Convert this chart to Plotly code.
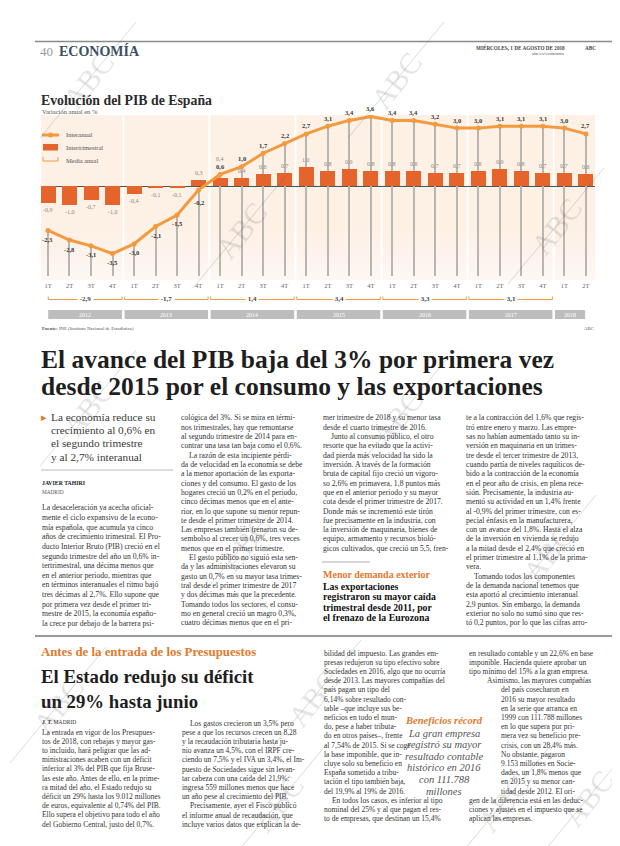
import plotly.graph_objects as go

W, H = 620, 846
SERIF = "Liberation Serif"

# ---------------- chart data ----------------
quarters = ["1T", "2T", "3T", "4T"] * 6 + ["1T", "2T"]
interanual = [-2.3, -2.8, -3.1, -3.5, -3.0, -2.1, -1.5, -0.2,
              0.6, 1.0, 1.7, 2.2, 2.7, 3.1, 3.4, 3.6,
              3.4, 3.4, 3.2, 3.0, 3.0, 3.1, 3.1, 3.1,
              3.0, 2.7]
intertrimestral = [-0.9, -1.0, -0.7, -1.0, -0.4, -0.1, -0.1, 0.3,
                   0.4, 0.4, 0.6, 0.7, 1.0, 0.8, 0.9, 0.8,
                   0.8, 0.8, 0.7, 0.7, 0.8, 0.9, 0.8, 0.7,
                   0.7, 0.6]
years = ["2012", "2013", "2014", "2015", "2016", "2017", "2018"]
quarters_per_year = [4, 4, 4, 4, 4, 4, 2]
media_anual = [-2.9, -1.7, 1.4, 3.4, 3.3, 3.1, None]

idx = list(range(len(interanual)))
fmt = lambda v: f"{v:.1f}".replace(".", ",")

# layout helpers (pixel -> paper)
def px(x):
    return x / W

def py(y):
    return 1 - y / H

YMIN, YMAX = -4.87, 3.68
XMIN, XMAX = -0.325, 25.42
DROP_BOTTOM = -4.66

LINE_C = "#f39a3e"
BAR_C = "#e5642b"
ORANGE_T = "#e07a2f"

fig = go.Figure()

# drop lines (thin gray bars from bottom to the interanual value)
fig.add_trace(go.Bar(x=idx, y=[v - DROP_BOTTOM for v in interanual], base=DROP_BOTTOM,
                     width=0.05, marker=dict(color="#b9b5b1", line=dict(width=0)),
                     hoverinfo="skip", showlegend=False))
# intertrimestral bars
fig.add_trace(go.Bar(x=idx, y=intertrimestral, width=0.7,
                     marker=dict(color=BAR_C, line=dict(width=0)),
                     showlegend=False, name="Intertrimestral"))
# interanual line
fig.add_trace(go.Scatter(x=idx, y=interanual, mode="lines+markers",
                         line=dict(color=LINE_C, width=3),
                         marker=dict(color=LINE_C, size=5),
                         showlegend=False, name="Interanual"))

annotations = []

def txt(s, x, y, size=7.6, color="#333", weight="normal", style="normal",
        family=SERIF, xanchor="left", yanchor="middle", angle=0, bg=None):
    d = dict(text=s, x=px(x), y=py(y), xref="paper", yref="paper", showarrow=False,
             font=dict(family=family, size=size, color=color, weight=weight, style=style),
             xanchor=xanchor, yanchor=yanchor, textangle=angle, borderpad=0)
    if bg:
        d["bgcolor"] = bg
    annotations.append(d)

def lines(arr, x, y0, dy, indent=8, **kw):
    for i, l in enumerate(arr):
        xx = x
        if l.startswith(">"):
            l = l[1:]
            xx = x + indent
        txt(l, xx, y0 + i * dy, **kw)

# value labels for bars
for i, v in enumerate(intertrimestral):
    shift = 7 if v >= 0 else -7
    if i == 8:
        shift = 19
    annotations.append(dict(text=fmt(v), x=i, y=v, xref="x", yref="y", showarrow=False,
                            yshift=shift, font=dict(family=SERIF, size=6, color="#8a8a8a")))
# value labels for line
for i, v in enumerate(interanual):
    shift = 8 if v > 0 else -9
    if i == 7:
        shift = -13
    annotations.append(dict(text=fmt(v), x=i, y=v, xref="x", yref="y", showarrow=False,
                            yshift=shift, font=dict(family=SERIF, size=6.5, color="#333",
                                                    weight="bold")))

shapes = []

# background fade toward bottom of the chart panel
for k in range(6):
    y0 = 272 - (k + 1) * 8
    shapes.append(dict(type="rect", xref="paper", yref="paper", x0=px(33), x1=px(587),
                       y0=py(272), y1=py(y0), fillcolor="white", opacity=0.12,
                       line=dict(width=0), layer="below"))

# year bands, separators, media anual brackets
start = 0
for yr, n, m in zip(years, quarters_per_year, media_anual):
    a = start - 0.5
    b = start + n - 0.5
    if start == 0:
        a = -0.05
    if start + n == len(idx):
        b = len(idx) - 1 + 0.02
    if start + n < len(idx):
        shapes.append(dict(type="line", xref="x", yref="paper", x0=b, x1=b,
                           y0=py(272), y1=py(107), line=dict(color="white", width=2),
                           layer="below"))
    shapes.append(dict(type="rect", xref="x", yref="paper", x0=a + 0.06, x1=b - 0.06,
                       y0=py(311), y1=py(302), fillcolor="#bdbdbd", line=dict(width=0)))
    annotations.append(dict(text=yr, x=(a + b) / 2, y=py(306.5), xref="x", yref="paper",
                            showarrow=False, font=dict(family=SERIF, size=6, color="white")))
    if m is not None:
        for seg in [(a + 0.06, a + 0.06, 288.5, 291.5), (b - 0.06, b - 0.06, 288.5, 291.5),
                    (a + 0.06, b - 0.06, 291.5, 291.5)]:
            shapes.append(dict(type="line", xref="x", yref="paper", x0=seg[0], x1=seg[1],
                               y0=py(seg[2]), y1=py(seg[3]),
                               line=dict(color=LINE_C, width=1)))
        annotations.append(dict(text=" " + fmt(m) + " ", x=(a + b) / 2, y=py(291), xref="x",
                                yref="paper", showarrow=False, bgcolor="white", borderpad=0,
                                font=dict(family=SERIF, size=7, color="#444", weight="bold")))
    start += n

# legend
shapes.append(dict(type="line", xref="paper", yref="paper", x0=px(34), x1=px(51),
                   y0=py(127), y1=py(127), line=dict(color=LINE_C, width=3)))
shapes.append(dict(type="circle", xref="paper", yref="paper", x0=px(40), x1=px(45),
                   y0=py(129.5), y1=py(124.5), fillcolor=LINE_C, line=dict(width=0)))
shapes.append(dict(type="rect", xref="paper", yref="paper", x0=px(35), x1=px(50),
                   y0=py(142.5), y1=py(136), fillcolor=BAR_C, line=dict(width=0)))
for seg in [(35, 35, 149, 153), (50, 50, 149, 153), (35, 50, 153, 153)]:
    shapes.append(dict(type="line", xref="paper", yref="paper", x0=px(seg[0]), x1=px(seg[1]),
                       y0=py(seg[2]), y1=py(seg[3]), line=dict(color=LINE_C, width=1)))
txt("Interanual", 57, 127, size=6.5, color="#555")
txt("Intertrimestral", 57, 139.5, size=6.5, color="#555")
txt("Media anual", 57, 152, size=6.5, color="#555")

# header
shapes.append(dict(type="line", xref="paper", yref="paper", x0=px(27), x1=1, y0=py(33.5),
                   y1=py(33.5), line=dict(color="#8a8a8a", width=1.5)))
txt("40", 31, 43, size=13, color="#9a9a9a")
txt("ECONOMÍA", 50, 43, size=14, color="#3c4f63", weight="bold")
txt("MIÉRCOLES, 1 DE AGOSTO DE 2018", 558, 39.5, size=5.2, color="#444", weight="bold",
    xanchor="right")
txt("ABC", 589, 39.5, size=5.2, color="#444", weight="bold", xanchor="right")
txt("abc.es/economia", 558, 45.5, size=4.8, color="#555", xanchor="right")

# chart titles & footer
txt("Evolución del PIB de España", 32, 92, size=13.8, color="#2b2b2b", weight="bold")
txt("Variación anual en %", 33, 103.5, size=6.5, color="#555")
txt("<b>Fuente:</b> INE (Instituto Nacional de Estadística)", 33, 321, size=4.8, color="#555")
txt("ABC", 587, 321, size=4.8, color="#555", xanchor="right")

# ---------------- article 1 ----------------
txt("El avance del PIB baja del 3% por primera vez", 32, 352, size=25.5, color="#1e1e1e",
    weight="bold")
txt("desde 2015 por el consumo y las exportaciones", 32, 378, size=25.5, color="#1e1e1e",
    weight="bold")

txt("▸", 32, 409, size=11, color=ORANGE_T)
lines(["La economía reduce su", "crecimiento al 0,6% en", "el segundo trimestre",
       "y al 2,7% interanual"], 42, 409, 13.2, size=11.3, color="#3a3a3a")
shapes.append(dict(type="line", xref="paper", yref="paper", x0=px(33), x1=px(165),
                   y0=py(462), y1=py(462), line=dict(color="#aaa", width=0.8)))
txt("JAVIER TAHIRI", 33, 475, size=5.8, color="#222", weight="bold")
txt("MADRID", 33, 484, size=5.3, color="#555")

col1 = ["La desaceleración ya acecha oficial-", "mente el ciclo expansivo de la econo-",
        "mía española, que acumula ya cinco", "años de crecimiento trimestral. El Pro-",
        "ducto Interior Bruto (PIB) creció en el", "segundo trimestre del año un 0,6% in-",
        "tertrimestral, una décima menos que", "en el anterior periodo, mientras que",
        "en términos interanuales el ritmo bajó", "tres décimas al 2,7%. Ello supone que",
        "por primera vez desde el primer tri-", "mestre de 2015, la economía españo-",
        "la crece por debajo de la barrera psi-"]
col2 = ["cológica del 3%. Si se mira en térmi-", "nos trimestrales, hay que remontarse",
        "al segundo trimestre de 2014 para en-", "contrar una tasa tan baja como el 0,6%.",
        ">La razón de esta incipiente pérdi-", "da de velocidad en la economía se debe",
        "a la menor aportación de las exporta-", "ciones y del consumo. El gasto de los",
        "hogares creció un 0,2% en el periodo,", "cinco décimas menos que en el ante-",
        "rior, en lo que supone su menor repun-", "te desde el primer trimestre de 2014.",
        "Las empresas también frenaron su de-", "sembolso al crecer un 0,6%, tres veces",
        "menos que en el primer trimestre.", ">El gasto público no siguió esta sen-",
        "da y las administraciones elevaron su", "gasto un 0,7% en su mayor tasa trimes-",
        "tral desde el primer trimestre de 2017", "y dos décimas más que la precedente.",
        "Tomando todos los sectores, el consu-", "mo en general creció un magro 0,3%,",
        "cuatro décimas menos que en el pri-"]
col3 = ["mer trimestre de 2018 y su menor tasa", "desde el cuarto trimestre de 2016.",
        ">Junto al consumo público, el otro", "resorte que ha evitado que la activi-",
        "dad pierda más velocidad ha sido la", "inversión. A través de la formación",
        "bruta de capital fijo creció un vigoro-", "so 2,6% en primavera, 1,8 puntos más",
        "que en el anterior periodo y su mayor", "cota desde el primer trimestre de 2017.",
        "Donde más se incrementó este tirón", "fue precisamente en la industria, con",
        "la inversión de maquinaria, bienes de", "equipo, armamento y recursos bioló-",
        "gicos cultivados, que creció un 5,5, fren-"]
col4 = ["te a la contracción del 1,6% que regis-", "tró entre enero y marzo. Las empre-",
        "sas no habían aumentado tanto su in-", "versión en maquinaria en un trimes-",
        "tre desde el tercer trimestre de 2013,", "cuando partía de niveles raquíticos de-",
        "bido a la contracción de la economía", "en el peor año de crisis, en plena rece-",
        "sión. Precisamente, la industria au-", "mentó su actividad en un 1,4% frente",
        "al -0,9% del primer trimestre, con es-", "pecial énfasis en la manufacturera,",
        "con un avance del 1,8%. Hasta el alza", "de la inversión en vivienda se redujo",
        "a la mitad desde el 2,4% que creció en", "el primer trimestre al 1,1% de la prima-",
        "vera.", ">Tomando todos los componentes", "de la demanda nacional tenemos que",
        "esta aportó al crecimiento interanual", "2,9 puntos. Sin embargo, la demanda",
        "exterior no solo no sumó sino que res-", "tó 0,2 puntos, por lo que las cifras arro-"]
BODY = dict(size=7.7, color="#333")
lines(col1, 33, 500, 9.6, **BODY)
lines(col2, 172, 410, 9.3, **BODY)
lines(col3, 314, 410, 9.3, **BODY)
lines(col4, 457, 410, 9.3, **BODY)

shapes.append(dict(type="line", xref="paper", yref="paper", x0=px(314), x1=px(362),
                   y0=py(554), y1=py(554), line=dict(color="#999", width=0.8)))
txt("Menor demanda exterior", 314, 566, size=10, color=ORANGE_T, weight="bold")
lines(["Las exportaciones", "registraron su mayor caída", "trimestral desde 2011, por",
       "el frenazo de la Eurozona"], 314, 578, 10.6, size=9.8, color="#111", weight="bold")

# ---------------- article 2 ----------------
shapes.append(dict(type="line", xref="paper", yref="paper", x0=px(27), x1=1, y0=py(628),
                   y1=py(628), line=dict(color="#9a9a9a", width=1.8)))
txt("Antes de la entrada de los Presupuestos", 32, 644, size=12.8, color=ORANGE_T,
    weight="bold")
txt("El Estado redujo su déficit", 32, 668, size=18.8, color="#1e1e1e", weight="bold")
txt("un 29% hasta junio", 32, 693, size=18.8, color="#1e1e1e", weight="bold")
txt("<b>J. T.</b> MADRID", 33, 714, size=5.6, color="#333")

c21 = ["La entrada en vigor de los Presupues-", "tos de 2018, con rebajas y mayor gas-",
       "to incluido, hará peligrar que las ad-", "ministraciones acaben con un déficit",
       "inferior al 3% del PIB que fija Bruse-", "las este año. Antes de ello, en la prime-",
       "ra mitad del año, el Estado redujo su", "déficit un 29% hasta los 9.012 millones",
       "de euros, equivalente al 0,74% del PIB.", "Ello supera el objetivo para todo el año",
       "del Gobierno Central, justo del 0,7%."]
c22 = [">Los gastos crecieron un 3,5% pero", "pese a que los recursos crecen un 8,28",
       "y la recaudación tributaria hasta ju-", "nio avanza un 4,5%, con el IRPF cre-",
       "ciendo un 7,5% y el IVA un 3,4%, el Im-", "puesto de Sociedades sigue sin levan-",
       "tar cabeza con una caída del 21,9%:", "ingresa 559 millones menos que hace",
       "un año pese al crecimiento del PIB.", ">Precisamente, ayer el Fisco publicó",
       "el informe anual de recaudación, que", "incluye varios datos que explican la de-"]
c23 = ["bilidad del impuesto. Las grandes em-", "presas redujeron su tipo efectivo sobre",
       "Sociedades en 2016, algo que no ocurría", "desde 2013. Las mayores compañías del",
       "país pagan un tipo del", "6,14% sobre resultado con-", "table –que incluye sus be-",
       "neficios en todo el mun-", "do, pese a haber tributa-", "do en otros países–, frente",
       "al 7,54% de 2015. Si se coge", "la base imponible, que in-", "cluye solo su beneficio en",
       "España sometido a tribu-", "tación el tipo también baja,", "del 19,9% al 19% de 2016.",
       ">En todos los casos, es inferior al tipo", "nominal del 25% y al que pagan el res-",
       "to de empresas, que destinan un 15,4%"]
c24a = ["en resultado contable y un 22,6% en base", "imponible. Hacienda quiere aprobar un",
        "tipo mínimo del 15% a la gran empresa."]
c24b = ["Asimismo, las mayores compañías"]
c24c = ["del país cosecharon en", "2016 su mayor resultado", "en la serie que arranca en",
        "1999 con 111.788 millones", "en lo que supera por pri-", "mera vez su beneficio pre-",
        "crisis, con un 28,4% más.", "No obstante, pagaron", "9.153 millones en Socie-",
        "dades, un 1,8% menos que", "en 2015 y su menor can-", "tidad desde 2012. El ori-"]
c24d = ["gen de la diferencia está en las deduc-", "ciones y ajustes en el impuesto que se",
        "aplican las empresas."]
DY2 = 9.2
BODY2 = dict(size=7.5, color="#333")
lines(c21, 33, 724, DY2, **BODY2)
lines(c22, 173, 715, DY2, **BODY2)
lines(c23, 315, 645, DY2, **BODY2)
lines(c24a, 460, 645, DY2, **BODY2)
lines(c24b, 478, 645 + 3 * DY2, DY2, **BODY2)
lines(c24c, 492, 645 + 4 * DY2, DY2, **BODY2)
lines(c24d, 460, 645 + 16 * DY2, DY2, **BODY2)

txt("Beneficios récord", 436, 712, size=10.5, color=ORANGE_T, weight="bold",
    style="italic", xanchor="center")
lines(["La gran empresa", "registró su mayor", "resultado contable", "histórico en 2016",
       "con 111.788", "millones"], 436, 725, 11.6, size=10.5, color="#555", style="italic",
      xanchor="center")

# ---------------- watermarks ----------------
marks = [(80, 72), (388, 72), (233, 222), (548, 218), (80, 400), (390, 410),
         (237, 535), (540, 545), (50, 697), (305, 690), (270, 795), (495, 795), (580, 790)]
for (mx, my) in marks:
    txt("ABC", mx, my, size=30, color="rgba(90,90,90,0.17)", xanchor="center",
        angle=-52)
    shapes.append(dict(type="line", xref="paper", yref="paper", x0=px(mx - 48),
                       x1=px(mx + 48), y0=py(my + 58), y1=py(my - 58),
                       line=dict(color="rgba(90,90,90,0.28)", width=0.8)))

fig.update_layout(
    width=W, height=H, margin=dict(l=0, r=0, t=0, b=0),
    paper_bgcolor="white", plot_bgcolor="#fdf0e5",
    barmode="overlay", bargap=0, showlegend=False,
    xaxis=dict(domain=[px(33), px(587)], range=[XMIN, XMAX], tickmode="array",
               tickvals=idx, ticktext=quarters, showgrid=False, zeroline=False,
               showline=False, ticks="", tickfont=dict(family=SERIF, size=6.5, color="#666")),
    yaxis=dict(domain=[py(272), py(107)], range=[YMIN, YMAX], showgrid=False,
               zeroline=True, zerolinecolor="#555", zerolinewidth=1,
               showticklabels=False, ticks=""),
    annotations=annotations, shapes=shapes,
)

fig.write_html("out.html")
